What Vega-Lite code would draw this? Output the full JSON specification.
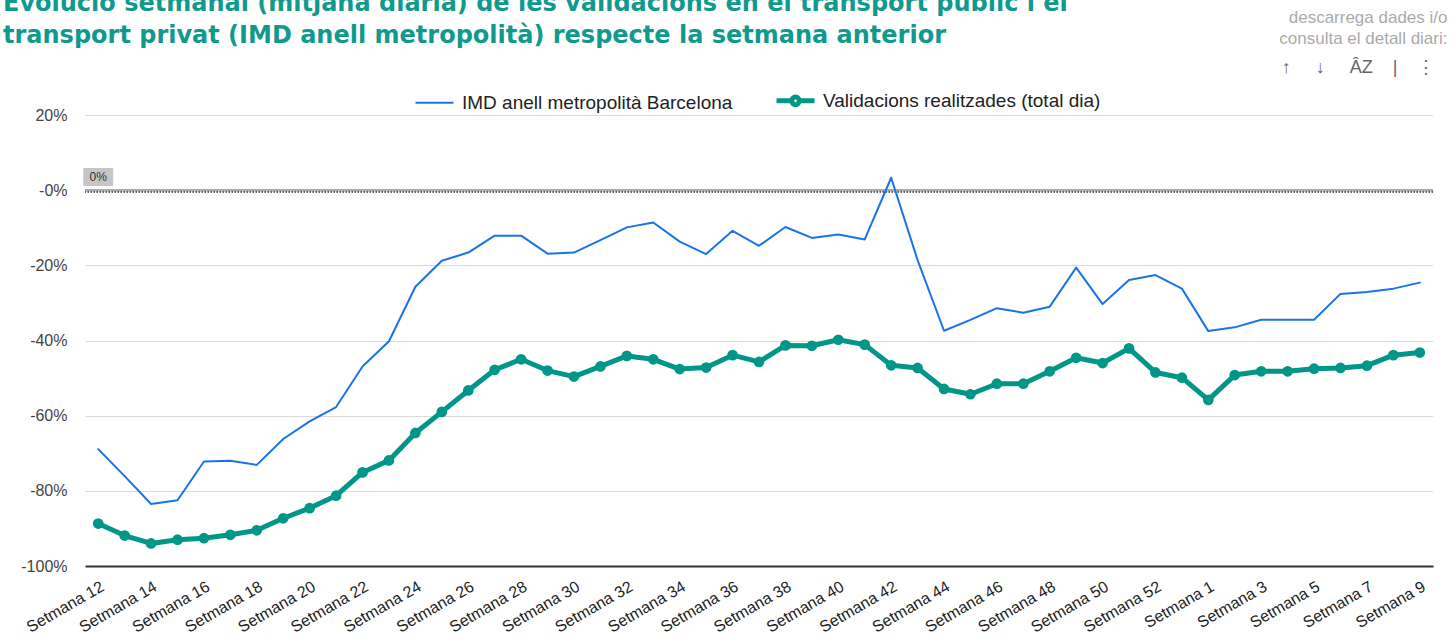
{
  "$schema": "https://vega.github.io/schema/vega-lite/v6.json",
  "width": 1348,
  "height": 451,
  "autosize": {"type": "none"},
  "padding": {"left": 85, "top": 115, "right": 18, "bottom": 72},
  "background": "white",
  "config": {"font": "Liberation Sans", "view": {"stroke": null}},
  "title": {
    "text": ["Evolució setmanal (mitjana diària) de les validacions en el transport públic i el", "transport privat (IMD anell metropolità) respecte la setmana anterior"],
    "anchor": "start",
    "frame": "group",
    "dx": -82,
    "dy": 40,
    "font": "DejaVu Sans",
    "fontSize": 24,
    "fontWeight": "bold",
    "color": "#11998e",
    "lineHeight": 32,
    "offset": 0
  },
  "data": {"values": [
    {"w": "Setmana 12", "s": "IMD anell metropolità Barcelona", "v": -68.9},
    {"w": "Setmana 13", "s": "IMD anell metropolità Barcelona", "v": -76.1},
    {"w": "Setmana 14", "s": "IMD anell metropolità Barcelona", "v": -83.5},
    {"w": "Setmana 15", "s": "IMD anell metropolità Barcelona", "v": -82.5},
    {"w": "Setmana 16", "s": "IMD anell metropolità Barcelona", "v": -72.2},
    {"w": "Setmana 17", "s": "IMD anell metropolità Barcelona", "v": -72.0},
    {"w": "Setmana 18", "s": "IMD anell metropolità Barcelona", "v": -73.1},
    {"w": "Setmana 19", "s": "IMD anell metropolità Barcelona", "v": -66.2},
    {"w": "Setmana 20", "s": "IMD anell metropolità Barcelona", "v": -61.5},
    {"w": "Setmana 21", "s": "IMD anell metropolità Barcelona", "v": -57.7},
    {"w": "Setmana 22", "s": "IMD anell metropolità Barcelona", "v": -46.9},
    {"w": "Setmana 23", "s": "IMD anell metropolità Barcelona", "v": -40.2},
    {"w": "Setmana 24", "s": "IMD anell metropolità Barcelona", "v": -25.7},
    {"w": "Setmana 25", "s": "IMD anell metropolità Barcelona", "v": -18.8},
    {"w": "Setmana 26", "s": "IMD anell metropolità Barcelona", "v": -16.6},
    {"w": "Setmana 27", "s": "IMD anell metropolità Barcelona", "v": -12.1},
    {"w": "Setmana 28", "s": "IMD anell metropolità Barcelona", "v": -12.1},
    {"w": "Setmana 29", "s": "IMD anell metropolità Barcelona", "v": -16.9},
    {"w": "Setmana 30", "s": "IMD anell metropolità Barcelona", "v": -16.6},
    {"w": "Setmana 31", "s": "IMD anell metropolità Barcelona", "v": -13.3},
    {"w": "Setmana 32", "s": "IMD anell metropolità Barcelona", "v": -9.9},
    {"w": "Setmana 33", "s": "IMD anell metropolità Barcelona", "v": -8.6},
    {"w": "Setmana 34", "s": "IMD anell metropolità Barcelona", "v": -13.7},
    {"w": "Setmana 35", "s": "IMD anell metropolità Barcelona", "v": -17.0},
    {"w": "Setmana 36", "s": "IMD anell metropolità Barcelona", "v": -10.8},
    {"w": "Setmana 37", "s": "IMD anell metropolità Barcelona", "v": -14.8},
    {"w": "Setmana 38", "s": "IMD anell metropolità Barcelona", "v": -9.8},
    {"w": "Setmana 39", "s": "IMD anell metropolità Barcelona", "v": -12.7},
    {"w": "Setmana 40", "s": "IMD anell metropolità Barcelona", "v": -11.8},
    {"w": "Setmana 41", "s": "IMD anell metropolità Barcelona", "v": -13.1},
    {"w": "Setmana 42", "s": "IMD anell metropolità Barcelona", "v": 3.3},
    {"w": "Setmana 43", "s": "IMD anell metropolità Barcelona", "v": -18.6},
    {"w": "Setmana 44", "s": "IMD anell metropolità Barcelona", "v": -37.4},
    {"w": "Setmana 45", "s": "IMD anell metropolità Barcelona", "v": -34.5},
    {"w": "Setmana 46", "s": "IMD anell metropolità Barcelona", "v": -31.4},
    {"w": "Setmana 47", "s": "IMD anell metropolità Barcelona", "v": -32.6},
    {"w": "Setmana 48", "s": "IMD anell metropolità Barcelona", "v": -31.0},
    {"w": "Setmana 49", "s": "IMD anell metropolità Barcelona", "v": -20.6},
    {"w": "Setmana 50", "s": "IMD anell metropolità Barcelona", "v": -30.3},
    {"w": "Setmana 51", "s": "IMD anell metropolità Barcelona", "v": -23.9},
    {"w": "Setmana 52", "s": "IMD anell metropolità Barcelona", "v": -22.6},
    {"w": "Setmana 53", "s": "IMD anell metropolità Barcelona", "v": -26.2},
    {"w": "Setmana 1", "s": "IMD anell metropolità Barcelona", "v": -37.5},
    {"w": "Setmana 2", "s": "IMD anell metropolità Barcelona", "v": -36.5},
    {"w": "Setmana 3", "s": "IMD anell metropolità Barcelona", "v": -34.5},
    {"w": "Setmana 4", "s": "IMD anell metropolità Barcelona", "v": -34.5},
    {"w": "Setmana 5", "s": "IMD anell metropolità Barcelona", "v": -34.5},
    {"w": "Setmana 6", "s": "IMD anell metropolità Barcelona", "v": -27.6},
    {"w": "Setmana 7", "s": "IMD anell metropolità Barcelona", "v": -27.1},
    {"w": "Setmana 8", "s": "IMD anell metropolità Barcelona", "v": -26.2},
    {"w": "Setmana 9", "s": "IMD anell metropolità Barcelona", "v": -24.6},
    {"w": "Setmana 12", "s": "Validacions realitzades (total dia)", "v": -88.7},
    {"w": "Setmana 13", "s": "Validacions realitzades (total dia)", "v": -91.9},
    {"w": "Setmana 14", "s": "Validacions realitzades (total dia)", "v": -94.0},
    {"w": "Setmana 15", "s": "Validacions realitzades (total dia)", "v": -93.0},
    {"w": "Setmana 16", "s": "Validacions realitzades (total dia)", "v": -92.6},
    {"w": "Setmana 17", "s": "Validacions realitzades (total dia)", "v": -91.7},
    {"w": "Setmana 18", "s": "Validacions realitzades (total dia)", "v": -90.5},
    {"w": "Setmana 19", "s": "Validacions realitzades (total dia)", "v": -87.3},
    {"w": "Setmana 20", "s": "Validacions realitzades (total dia)", "v": -84.6},
    {"w": "Setmana 21", "s": "Validacions realitzades (total dia)", "v": -81.3},
    {"w": "Setmana 22", "s": "Validacions realitzades (total dia)", "v": -75.1},
    {"w": "Setmana 23", "s": "Validacions realitzades (total dia)", "v": -71.9},
    {"w": "Setmana 24", "s": "Validacions realitzades (total dia)", "v": -64.6},
    {"w": "Setmana 25", "s": "Validacions realitzades (total dia)", "v": -59.0},
    {"w": "Setmana 26", "s": "Validacions realitzades (total dia)", "v": -53.3},
    {"w": "Setmana 27", "s": "Validacions realitzades (total dia)", "v": -47.8},
    {"w": "Setmana 28", "s": "Validacions realitzades (total dia)", "v": -45.0},
    {"w": "Setmana 29", "s": "Validacions realitzades (total dia)", "v": -48.0},
    {"w": "Setmana 30", "s": "Validacions realitzades (total dia)", "v": -49.6},
    {"w": "Setmana 31", "s": "Validacions realitzades (total dia)", "v": -46.9},
    {"w": "Setmana 32", "s": "Validacions realitzades (total dia)", "v": -44.1},
    {"w": "Setmana 33", "s": "Validacions realitzades (total dia)", "v": -45.0},
    {"w": "Setmana 34", "s": "Validacions realitzades (total dia)", "v": -47.6},
    {"w": "Setmana 35", "s": "Validacions realitzades (total dia)", "v": -47.2},
    {"w": "Setmana 36", "s": "Validacions realitzades (total dia)", "v": -43.9},
    {"w": "Setmana 37", "s": "Validacions realitzades (total dia)", "v": -45.7},
    {"w": "Setmana 38", "s": "Validacions realitzades (total dia)", "v": -41.3},
    {"w": "Setmana 39", "s": "Validacions realitzades (total dia)", "v": -41.4},
    {"w": "Setmana 40", "s": "Validacions realitzades (total dia)", "v": -39.8},
    {"w": "Setmana 41", "s": "Validacions realitzades (total dia)", "v": -41.1},
    {"w": "Setmana 42", "s": "Validacions realitzades (total dia)", "v": -46.6},
    {"w": "Setmana 43", "s": "Validacions realitzades (total dia)", "v": -47.3},
    {"w": "Setmana 44", "s": "Validacions realitzades (total dia)", "v": -52.9},
    {"w": "Setmana 45", "s": "Validacions realitzades (total dia)", "v": -54.3},
    {"w": "Setmana 46", "s": "Validacions realitzades (total dia)", "v": -51.5},
    {"w": "Setmana 47", "s": "Validacions realitzades (total dia)", "v": -51.5},
    {"w": "Setmana 48", "s": "Validacions realitzades (total dia)", "v": -48.2},
    {"w": "Setmana 49", "s": "Validacions realitzades (total dia)", "v": -44.6},
    {"w": "Setmana 50", "s": "Validacions realitzades (total dia)", "v": -46.0},
    {"w": "Setmana 51", "s": "Validacions realitzades (total dia)", "v": -42.1},
    {"w": "Setmana 52", "s": "Validacions realitzades (total dia)", "v": -48.5},
    {"w": "Setmana 53", "s": "Validacions realitzades (total dia)", "v": -49.9},
    {"w": "Setmana 1", "s": "Validacions realitzades (total dia)", "v": -55.8},
    {"w": "Setmana 2", "s": "Validacions realitzades (total dia)", "v": -49.2},
    {"w": "Setmana 3", "s": "Validacions realitzades (total dia)", "v": -48.2},
    {"w": "Setmana 4", "s": "Validacions realitzades (total dia)", "v": -48.2},
    {"w": "Setmana 5", "s": "Validacions realitzades (total dia)", "v": -47.5},
    {"w": "Setmana 6", "s": "Validacions realitzades (total dia)", "v": -47.3},
    {"w": "Setmana 7", "s": "Validacions realitzades (total dia)", "v": -46.7},
    {"w": "Setmana 8", "s": "Validacions realitzades (total dia)", "v": -43.9},
    {"w": "Setmana 9", "s": "Validacions realitzades (total dia)", "v": -43.2}
  ]},
  "encoding": {
    "x": {
      "field": "w", "type": "ordinal", "sort": null,
      "scale": {"type": "point", "padding": 0.5},
      "axis": {
        "values": ["Setmana 12","Setmana 14","Setmana 16","Setmana 18","Setmana 20","Setmana 22","Setmana 24","Setmana 26","Setmana 28","Setmana 30","Setmana 32","Setmana 34","Setmana 36","Setmana 38","Setmana 40","Setmana 42","Setmana 44","Setmana 46","Setmana 48","Setmana 50","Setmana 52","Setmana 1","Setmana 3","Setmana 5","Setmana 7","Setmana 9"],
        "labelAngle": -30,
        "labelFontSize": 16,
        "labelColor": "#222",
        "labelPadding": 12,
        "ticks": false,
        "grid": false,
        "domain": true,
        "domainColor": "#333",
        "domainWidth": 2,
        "title": ["descarrega dades i/o", "consulta el detall diari:"],
        "titleX": 1362,
        "titleY": -544,
        "titleAlign": "right",
        "titleBaseline": "alphabetic",
        "titleFontSize": 17,
        "titleFontWeight": "normal",
        "titleColor": "#aaa",
        "titleLineHeight": 21
      }
    },
    "y": {
      "field": "v", "type": "quantitative",
      "scale": {"domain": [-100, 20], "nice": false, "zero": false},
      "axis": {
        "values": [-100, -80, -60, -40, -20, 0, 20],
        "labelExpr": "datum.value == 0 ? '-0%' : datum.value + '%'",
        "labelFontSize": 16,
        "labelColor": "#444",
        "labelPadding": 18,
        "ticks": false,
        "domain": false,
        "gridColor": "#dcdcdc",
        "gridWidth": 1,
        "title": "↑\u00a0\u00a0\u00a0\u00a0\u00a0↓\u00a0\u00a0\u00a0\u00a0\u00a0ÂZ\u00a0\u00a0\u00a0\u00a0|\u00a0\u00a0\u00a0\u00a0⋮",
        "titleAngle": 0,
        "titleX": 1350,
        "titleY": -43,
        "titleAlign": "right",
        "titleBaseline": "alphabetic",
        "titleFontSize": 18,
        "titleFontWeight": "normal",
        "titleColor": "#666"
      }
    }
  },
  "layer": [
    {
      "data": {"values": [{"t": "0%", "v": 0}]},
      "mark": {"type": "rule", "color": "#aaa", "strokeWidth": 2.5},
      "encoding": {"y": {"datum": 0}, "x": null}
    },
    {
      "data": {"values": [{"t": "0%", "v": 0}]},
      "mark": {"type": "rule", "color": "#333", "strokeWidth": 1.5, "strokeDash": [1.5, 1.5]},
      "encoding": {"y": {"datum": -0.5}, "x": null}
    },
    {
      "data": {"values": [{"t": "0%", "v": 0}]},
      "mark": {"type": "point", "shape": "M-1,-0.6H1V0.6H-1Z", "filled": true, "color": "#c6c6c6", "opacity": 1, "size": 900},
      "encoding": {"x": {"datum": "Setmana 12"}, "y": {"datum": 3.5}}
    },
    {
      "data": {"values": [{"t": "0%", "v": 0}]},
      "mark": {"type": "text", "fontSize": 12, "color": "#333"},
      "encoding": {"x": {"datum": "Setmana 12"}, "y": {"datum": 3.5}, "text": {"field": "t"}}
    },
    {
      "mark": {"type": "line", "strokeJoin": "round", "strokeCap": "round"},
      "encoding": {
        "color": {
          "field": "s", "type": "nominal",
          "scale": {"domain": ["IMD anell metropolità Barcelona", "Validacions realitzades (total dia)"], "range": ["#1a73e8", "#009688"]},
          "legend": {
            "orient": "none", "legendX": 340, "legendY": -24,
            "direction": "horizontal", "title": null,
            "symbolType": "stroke", "symbolSize": 1444, "symbolStrokeWidth": 2,
            "labelFontSize": 19, "labelColor": "#222", "labelOffset": 18, "labelLimit": 500,
            "columnPadding": 33,
            "encode": {"symbols": {"update": {
              "strokeWidth": {"signal": "datum.value == 'IMD anell metropolità Barcelona' ? 2 : 5"},
              "shape": {"signal": "datum.value == 'IMD anell metropolità Barcelona' ? 'stroke' : 'M-1,0H-0.2M0.2,0H1M-0.2,0A0.2,0.2 0 1 1 0.2,0A0.2,0.2 0 1 1 -0.2,0Z'"}
            }}}
          }
        },
        "strokeWidth": {"condition": {"test": "datum.s == 'Validacions realitzades (total dia)'", "value": 5}, "value": 2}
      }
    },
    {
      "transform": [{"filter": "datum.s == 'Validacions realitzades (total dia)'"}],
      "mark": {"type": "point", "filled": true, "color": "#009688", "opacity": 1, "size": 115}
    }
  ]
}
